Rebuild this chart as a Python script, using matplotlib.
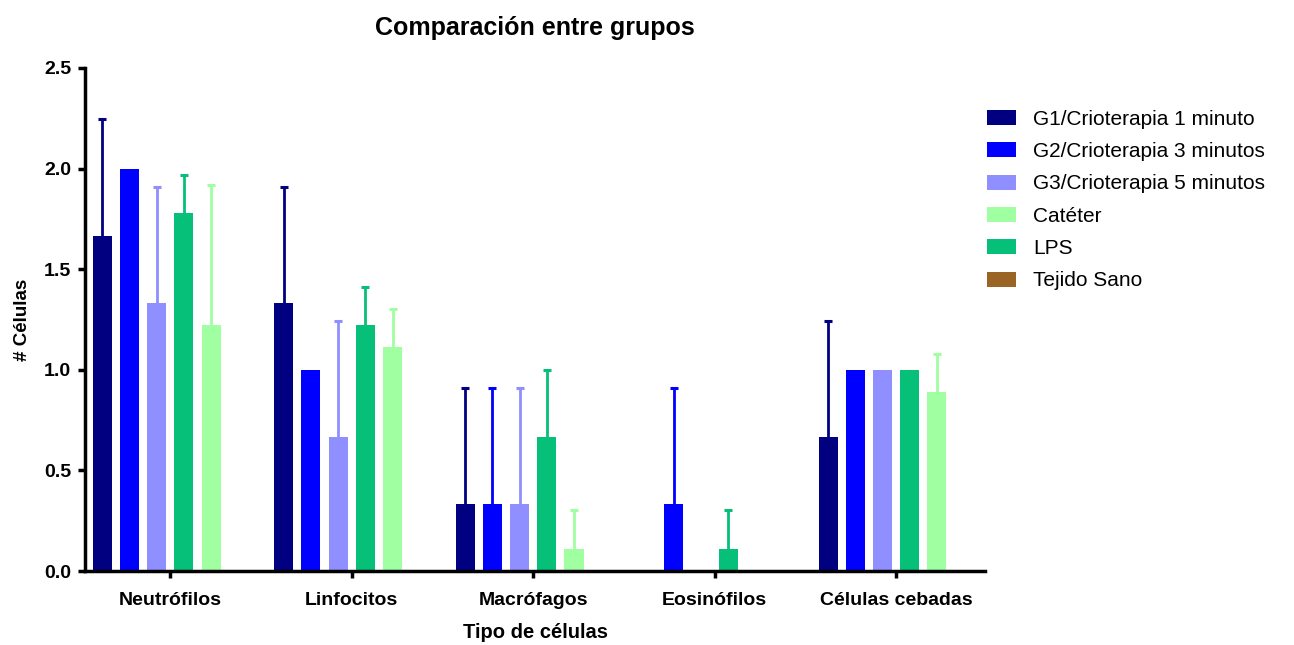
import matplotlib.pyplot as plt
import numpy as np

plt.rcParams["font.family"] = ["Liberation Sans", "DejaVu Sans"]

# ---------------------------------------------------------------------------
# Data
# ---------------------------------------------------------------------------
categories = ["Neutrófilos", "Linfocitos", "Macrófagos", "Eosinófilos", "Células cebadas"]

# bar order inside each group
series = ["G1/Crioterapia 1 minuto", "G2/Crioterapia 3 minutos", "G3/Crioterapia 5 minutos",
          "LPS", "Catéter", "Tejido Sano"]
colors = ["#000080", "#0000FF", "#8F8FFF", "#06BF78", "#A0FFA0", "#996424"]

means = [
    [1.667, 1.333, 0.333, 0.0, 0.667],    # G1
    [2.0, 1.0, 0.333, 0.333, 1.0],        # G2
    [1.333, 0.667, 0.333, 0.0, 1.0],      # G3
    [1.778, 1.222, 0.667, 0.111, 1.0],    # LPS
    [1.222, 1.111, 0.111, 0.0, 0.889],    # Catéter
    [0.0, 0.0, 0.0, 0.0, 0.0],            # Tejido Sano
]
errors = [
    [0.577, 0.577, 0.577, 0.0, 0.577],
    [0.0, 0.0, 0.577, 0.577, 0.0],
    [0.577, 0.577, 0.577, 0.0, 0.0],
    [0.192, 0.192, 0.333, 0.192, 0.0],
    [0.694, 0.192, 0.192, 0.0, 0.192],
    [0.0, 0.0, 0.0, 0.0, 0.0],
]

legend_order = [0, 1, 2, 4, 3, 5]

# ---------------------------------------------------------------------------
# Plot
# ---------------------------------------------------------------------------
fig = plt.figure(figsize=(12.94, 6.45), dpi=100)
ax = fig.add_axes([0.0657, 0.1147, 0.6955, 0.7799])

x = np.arange(len(categories))
step = 0.15
width = 0.105
handles = []
for i, (name, col) in enumerate(zip(series, colors)):
    pos = x + (i - 2.5) * step
    b = ax.bar(pos, means[i], width=width, color=col, label=name, zorder=2)
    handles.append(b)
    err = np.array(errors[i])
    m = err > 0
    if m.any():
        # upper error only: stem + single cap
        top = np.array(means[i])[m] + err[m]
        ax.vlines(pos[m], np.array(means[i])[m], top, colors=col, linewidth=2, zorder=1)
        ax.plot(pos[m], top, linestyle="none", marker="_", markersize=6,
                markeredgewidth=2.2, color=col, zorder=1)

ax.set_xlim(-0.47, 4.49)
ax.set_ylim(0, 2.5)
ax.set_yticks([0, 0.5, 1.0, 1.5, 2.0, 2.5])
ax.set_yticklabels(["0.0", "0.5", "1.0", "1.5", "2.0", "2.5"])
ax.set_xticks(x)
ax.set_xticklabels(categories)

for lab in ax.get_xticklabels() + ax.get_yticklabels():
    lab.set_fontweight("bold")
    lab.set_fontsize(14)

for s in ["top", "right"]:
    ax.spines[s].set_visible(False)
for s in ["left", "bottom"]:
    ax.spines[s].set_linewidth(2.5)
ax.tick_params(width=2.5, length=5, direction="out")
ax.tick_params(axis="x", pad=10)
ax.tick_params(axis="y", pad=5)

ax.set_xlabel("Tipo de células", fontsize=14.5, fontweight="bold", labelpad=10)
ax.set_ylabel("# Células", fontsize=13.5, fontweight="bold", labelpad=9)
ax.set_title("Comparación entre grupos", fontsize=18, fontweight="bold", pad=24)

ax.legend([handles[k] for k in legend_order], [series[k] for k in legend_order],
          loc="upper left", bbox_to_anchor=(968 / 1294, 1 - 91 / 645),
          bbox_transform=fig.transFigure, frameon=False,
          fontsize=15, handlelength=1.4, handleheight=0.75, labelspacing=0.64,
          handletextpad=0.82)

fig.savefig("out.png", dpi=100)
